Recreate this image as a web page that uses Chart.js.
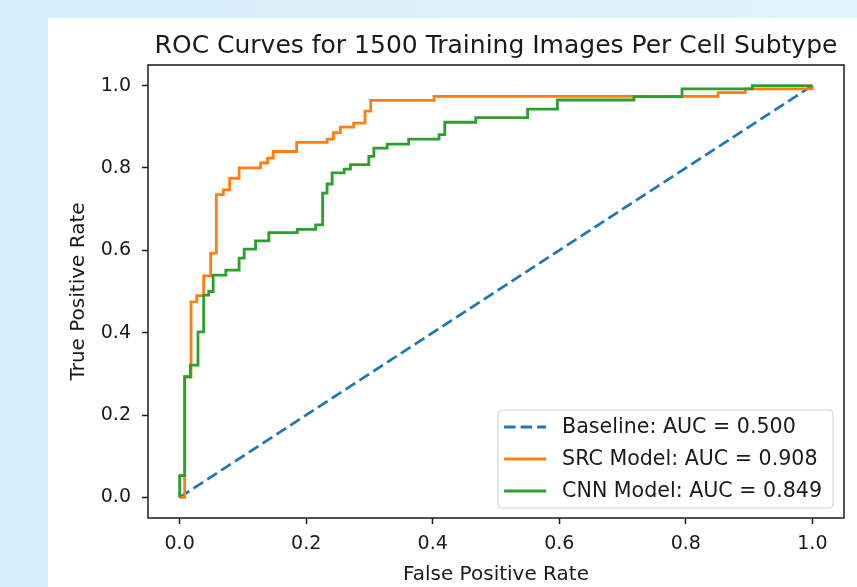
<!DOCTYPE html>
<html>
<head>
<meta charset="utf-8">
<script src="https://cdn.jsdelivr.net/npm/chart.js@4.4.1/dist/chart.umd.min.js"></script>
<style>
  html, body { margin: 0; padding: 0; }
  body { width: 857px; height: 587px; overflow: hidden; position: relative;
         background: linear-gradient(90deg, #d5eef9 0%, #e2f4fb 100%); }
  #painel { position: absolute; left: 48px; top: 18px; width: 809px; height: 569px; background: #fff; }
  #graficoRoc { display: block; }
</style>
</head>
<body>
<div id="painel"><canvas id="graficoRoc" width="809" height="569"></canvas></div>
<script>
const tituloGrafico = 'ROC Curves for 1500 Training Images Per Cell Subtype';
const rotuloX = 'False Positive Rate';
const rotuloY = 'True Positive Rate';
const ticksEixo = [0, 0.2, 0.4, 0.6, 0.8, 1.0];

const nomesSeries = ['Baseline: AUC = 0.500', 'SRC Model: AUC = 0.908', 'CNN Model: AUC = 0.849'];
const coresSeries = ['#1f77b4', '#ff7f0e', '#2ca02c'];

// diagonal de referencia
const baseFpr = [0, 1];
const baseTpr = [0, 1];

// SRC (cantos da curva ROC)
const srcFpr = [0, 0.008, 0.008, 0.018, 0.018, 0.027, 0.027, 0.038, 0.038, 0.049, 0.049,
  0.058, 0.058, 0.069, 0.069, 0.079, 0.079, 0.094, 0.094, 0.128, 0.128, 0.139, 0.139,
  0.148, 0.148, 0.185, 0.185, 0.233, 0.233, 0.243, 0.243, 0.254, 0.254, 0.275, 0.275,
  0.293, 0.293, 0.302, 0.302, 0.402, 0.402, 0.851, 0.851, 0.894, 0.894, 1.0, 1.0];
const srcTpr = [0, 0, 0.293, 0.293, 0.475, 0.475, 0.49, 0.49, 0.538, 0.538, 0.593,
  0.593, 0.735, 0.735, 0.747, 0.747, 0.775, 0.775, 0.80, 0.80, 0.812, 0.812, 0.824,
  0.824, 0.840, 0.840, 0.862, 0.862, 0.870, 0.870, 0.886, 0.886, 0.899, 0.899, 0.909,
  0.909, 0.938, 0.938, 0.964, 0.964, 0.974, 0.974, 0.983, 0.983, 0.992, 0.992, 1.0];

// CNN
const cnnFpr = [0, 0, 0.008, 0.008, 0.017, 0.017, 0.029, 0.029, 0.038, 0.038, 0.046, 0.046,
  0.053, 0.053, 0.073, 0.073, 0.094, 0.094, 0.102, 0.102, 0.120, 0.120, 0.141, 0.141,
  0.186, 0.186, 0.215, 0.215, 0.226, 0.226, 0.233, 0.233, 0.241, 0.241, 0.260, 0.260,
  0.270, 0.270, 0.299, 0.299, 0.307, 0.307, 0.328, 0.328, 0.362, 0.362, 0.410, 0.410,
  0.419, 0.419, 0.468, 0.468, 0.550, 0.550, 0.597, 0.597, 0.718, 0.718, 0.794, 0.794,
  0.905, 0.905, 1.0];
const cnnTpr = [0, 0.053, 0.053, 0.293, 0.293, 0.321, 0.321, 0.402, 0.402, 0.491, 0.491,
  0.500, 0.500, 0.540, 0.540, 0.552, 0.552, 0.581, 0.581, 0.603, 0.603, 0.623, 0.623,
  0.643, 0.643, 0.651, 0.651, 0.662, 0.662, 0.739, 0.739, 0.761, 0.761, 0.788, 0.788,
  0.797, 0.797, 0.808, 0.808, 0.828, 0.828, 0.848, 0.848, 0.858, 0.858, 0.870, 0.870,
  0.881, 0.881, 0.911, 0.911, 0.922, 0.922, 0.943, 0.943, 0.965, 0.965, 0.973, 0.973,
  0.992, 0.992, 1.0, 1.0];

const familia = '"DejaVu Sans", sans-serif';
const corTexto = '#1a1a1a';

function montarPontos(fpr, tpr) {
  return fpr.map((x, i) => ({ x: x, y: tpr[i] }));
}

// caixa preta em volta da area do grafico (estilo matplotlib)
const molduraEixos = {
  id: 'molduraEixos',
  afterDatasetsDraw(chart) {
    const { ctx, chartArea: a } = chart;
    ctx.save();
    ctx.strokeStyle = corTexto;
    ctx.lineWidth = 1.5;
    ctx.strokeRect(a.left, a.top, a.right - a.left, a.bottom - a.top);
    ctx.restore();
  }
};

// legenda dentro do grafico, canto inferior direito
const legendaInterna = {
  id: 'legendaInterna',
  afterDraw(chart) {
    const { ctx, chartArea: a } = chart;
    ctx.save();
    ctx.font = '20.6px ' + familia;
    const larguraTexto = Math.max(...nomesSeries.map(n => ctx.measureText(n).width));
    const largura = 64 + larguraTexto + 11;
    const altura = 98;
    const x0 = a.right - 11 - largura;
    const y0 = a.bottom - 10 - altura;

    ctx.beginPath();
    ctx.roundRect(x0, y0, largura, altura, 4);
    ctx.fillStyle = 'rgba(255,255,255,0.8)';
    ctx.fill();
    ctx.strokeStyle = '#d0d0d0';
    ctx.lineWidth = 1;
    ctx.stroke();

    nomesSeries.forEach((nome, i) => {
      const ds = chart.data.datasets[i];
      const y = y0 + 17 + i * 32;
      ctx.beginPath();
      ctx.setLineDash(ds.borderDash || []);
      ctx.strokeStyle = ds.borderColor;
      ctx.lineWidth = ds.borderWidth;
      ctx.moveTo(x0 + 6, y);
      ctx.lineTo(x0 + 48, y);
      ctx.stroke();
      ctx.setLineDash([]);
      ctx.fillStyle = corTexto;
      ctx.textBaseline = 'middle';
      ctx.textAlign = 'left';
      ctx.fillText(nome, x0 + 64, y + 1);
    });
    ctx.restore();
  }
};

function eixoLinear(titulo, ajuste) {
  return {
    type: 'linear',
    min: -0.05,
    max: 1.05,
    afterBuildTicks: s => { s.ticks = ticksEixo.map(v => ({ value: v })); },
    afterFit: ajuste,
    grid: { drawOnChartArea: false, drawTicks: true, tickLength: 6, tickWidth: 1.5, tickColor: corTexto },
    border: { display: false },
    ticks: {
      color: corTexto,
      font: { family: familia, size: 19 },
      callback: v => Number(v).toFixed(1)
    },
    title: { display: true, text: titulo, color: corTexto, font: { family: familia, size: 20 } }
  };
}

const eixoX = eixoLinear(rotuloX, s => { s.height = 69; });
eixoX.ticks.padding = 9;
eixoX.title.padding = { top: 0, bottom: 0 };

const eixoY = eixoLinear(rotuloY, s => { s.width = 100; });
eixoY.ticks.padding = 11;
eixoY.title.padding = { top: 19, bottom: 0 };

const ctx = document.getElementById('graficoRoc').getContext('2d');
const chartRoc = new Chart(ctx, {
  type: 'line',
  data: {
    datasets: [
      {
        label: nomesSeries[0],
        data: montarPontos(baseFpr, baseTpr),
        borderColor: coresSeries[0],
        borderWidth: 2.8,
        borderDash: [11.5, 5],
        borderCapStyle: 'butt',
        pointRadius: 0,
        order: 3
      },
      {
        label: nomesSeries[1],
        data: montarPontos(srcFpr, srcTpr),
        borderColor: coresSeries[1],
        borderWidth: 2.8,
        pointRadius: 0,
        order: 2
      },
      {
        label: nomesSeries[2],
        data: montarPontos(cnnFpr, cnnTpr),
        borderColor: coresSeries[2],
        borderWidth: 2.8,
        pointRadius: 0,
        order: 1
      }
    ]
  },
  options: {
    responsive: false,
    animation: false,
    devicePixelRatio: 1,
    layout: { padding: { top: 0, right: 13, bottom: 0, left: 0 } },
    plugins: {
      legend: { display: false },
      tooltip: { enabled: false },
      title: {
        display: true,
        fullSize: false,
        text: tituloGrafico,
        color: corTexto,
        font: { family: familia, size: 25, weight: 'normal' },
        padding: { top: 13, bottom: 4 }
      }
    },
    scales: { x: eixoX, y: eixoY }
  },
  plugins: [molduraEixos, legendaInterna]
});
</script>
</body>
</html>
